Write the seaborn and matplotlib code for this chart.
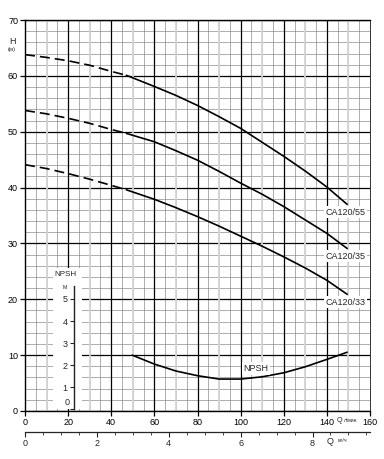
import numpy as np
import pandas as pd
import matplotlib
matplotlib.use('Agg')
import matplotlib.pyplot as plt
import seaborn as sns

# flow in l/min, head in m
flow = [0, 10, 20, 30, 40, 47, 60, 70, 80, 90, 100, 110, 120, 130, 140, 149.4]
head_55 = [63.8, 63.3, 62.7, 61.9, 60.8, 60.1, 58.1, 56.5, 54.7, 52.7, 50.6, 48.1, 45.6, 42.95, 40.1, 37.0]
head_35 = [53.8, 53.2, 52.4, 51.5, 50.4, 49.7, 48.2, 46.6, 44.9, 42.9, 40.8, 38.8, 36.6, 34.2, 31.8, 29.1]
head_33 = [44.1, 43.4, 42.5, 41.5, 40.4, 39.6, 37.9, 36.4, 34.8, 33.1, 31.3, 29.5, 27.6, 25.6, 23.4, 20.9]
pump_names = ['CA120/55', 'CA120/35', 'CA120/33']
dashed_until = 47  # curves are dashed below this flow

npsh_flow = [49.7, 60, 70, 80, 90, 100, 110, 120, 130, 140, 149.4]
npsh_m = [2.5, 2.1, 1.79, 1.58, 1.43, 1.43, 1.53, 1.71, 1.98, 2.31, 2.63]
npsh_scale = 4  # 1 m NPSH drawn as 4 m on the H axis

lmin_to_m3h = 0.06

sns.set_style('white')
plt.rcParams['font.family'] = ['Liberation Sans', 'DejaVu Sans']
plt.rcParams['axes.axisbelow'] = True

fig = plt.figure(figsize=(3.84, 4.59), dpi=100)
ax = fig.add_axes([25/384, 48/459, 345/384, 391/459])
ax.set_xlim(0, 160)
ax.set_ylim(0, 70)

# grid: thin every 5 / 2, light gray at odd tens, black at 20 / 10
ax.set_xticks(np.arange(0, 161, 20))
ax.set_xticks(np.arange(0, 161, 5), minor=True)
ax.set_yticks(np.arange(0, 71, 10))
ax.set_yticks(np.arange(0, 71, 2), minor=True)
ax.grid(which='minor', color='#808080', lw=0.45)
ax.grid(which='major', axis='y', color='black', lw=0.9)
ax.vlines(np.arange(10, 160, 20), 0, 70, color='#d4d4d4', lw=1.3, zorder=0.6)
ax.vlines(np.arange(20, 160, 20), 0, 70, color='black', lw=0.9, zorder=0.7)

for side in ['left', 'bottom', 'top']:
    ax.spines[side].set_color('black')
    ax.spines[side].set_linewidth(1.0)
ax.spines['right'].set_color('#333333')
ax.spines['right'].set_linewidth(0.7)

ax.tick_params(which='major', axis='both', direction='out', length=3.5, width=0.9,
               labelsize=6.5, pad=1.5, colors='black', left=True, bottom=True)
ax.tick_params(which='minor', length=0)
ax.set_xticklabels([str(v) for v in range(0, 161, 20)])

# pump curves
heads = [head_55, head_35, head_33]
for name, h in zip(pump_names, heads):
    df = pd.DataFrame({'flow': flow, 'head': h})
    dashed = df[df['flow'] <= dashed_until]
    solid = df[df['flow'] >= dashed_until]
    sns.lineplot(data=dashed, x='flow', y='head', ax=ax, color='black', lw=1.2,
                 estimator=None, sort=False, linestyle=(0, (6, 3)), zorder=3)
    sns.lineplot(data=solid, x='flow', y='head', ax=ax, color='black', lw=1.2,
                 estimator=None, sort=False, zorder=3)
    ax.text(148.6, h[-1] - 1.4, name, fontsize=6.5, ha='center', va='center', zorder=4,
            bbox=dict(facecolor='white', edgecolor='none', pad=1.2))

# NPSH curve
npsh_df = pd.DataFrame({'flow': npsh_flow, 'npsh': np.array(npsh_m) * npsh_scale})
sns.lineplot(data=npsh_df, x='flow', y='npsh', ax=ax, color='black', lw=1.2,
             estimator=None, sort=False, zorder=3)
ax.text(107, 7.6, 'NPSH', fontsize=6.5, ha='center', va='center', zorder=4,
        bbox=dict(facecolor='white', edgecolor='none', pad=1.2))
ax.set_xlabel('')
ax.set_ylabel('')

# NPSH scale inside a white box
axn = ax.inset_axes([13, 0.3, 13.5, 25.3], transform=ax.transData, zorder=1.5)
axn.set_facecolor('white')
axn.set_xlim(13, 26.5)
axn.set_ylim(0.3 / npsh_scale, 25.6 / npsh_scale)
for side in ['top', 'right', 'bottom']:
    axn.spines[side].set_visible(False)
axn.spines['left'].set_position(('data', 22.7))
axn.spines['left'].set_bounds(0, 5.6)
axn.spines['left'].set_color('#222222')
axn.spines['left'].set_linewidth(1.0)
axn.set_xticks([])
axn.set_yticks(range(0, 6))
axn.set_yticklabels([''] + [str(v) for v in range(1, 6)])
axn.tick_params(axis='y', direction='out', length=3, width=0.8, labelsize=6.5, pad=1.5, left=True)
axn.text(19.4, 0.31, '0', fontsize=6.5, ha='center', va='center')
axn.text(18.6, 5.53, 'M', fontsize=3.8, ha='center', va='center')
axn.text(18.6, 6.12, 'NPSH', fontsize=5.8, ha='center', va='center')

# second flow axis in m3/h
sec = ax.secondary_xaxis(-0.054, functions=(lambda q: q * lmin_to_m3h, lambda m: m / lmin_to_m3h))
sec.set_xticks([0, 2, 4, 6, 8])
sec.set_xticks(np.arange(0, 9.6, 0.5), minor=True)
sec.spines['bottom'].set_linewidth(0.9)
sec.tick_params(which='major', direction='out', length=3.5, width=0.8, labelsize=6.5, pad=1.5)
sec.tick_params(which='minor', direction='out', length=2, width=0.6)

# axis units
fig.text(12/384, 1 - 42/459, 'H', fontsize=6.5, ha='center', va='center')
fig.text(12/384, 1 - 49/459, '(м)', fontsize=4.2, ha='center', va='center')
fig.text(339/384, 1 - 420/459, 'Q', fontsize=5.2, ha='center', va='center')
fig.text(351/384, 1 - 420/459, 'л/мин', fontsize=3.6, ha='center', va='center')
fig.text(330/384, 1 - 441/459, 'Q', fontsize=6.5, ha='center', va='center')
fig.text(342/384, 1 - 441/459, 'м³/ч', fontsize=3.8, ha='center', va='center')

fig.savefig('out.png', dpi=100)
